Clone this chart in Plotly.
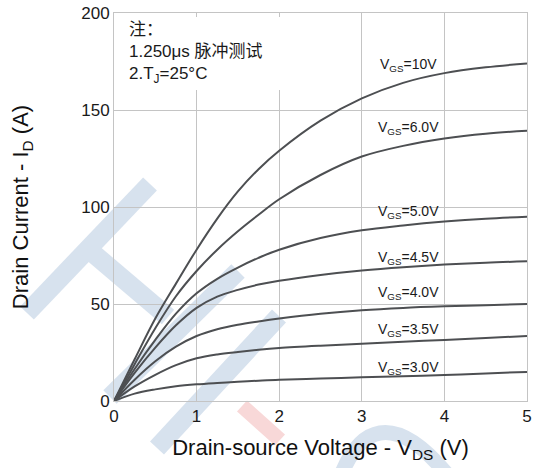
import plotly.graph_objects as go

# ---------------- data ----------------
vds = [0, 0.25, 0.5, 0.75, 1, 1.25, 1.5, 1.75, 2, 2.5, 3, 3.5, 4, 4.5, 5]
id_10v = [0, 21.5, 42.5, 60.5, 78, 94, 108, 119.5, 129, 144.5, 156, 164, 169, 172, 174]
id_6v = [0, 19, 37.5, 54, 67, 78, 87.5, 96, 104, 116.5, 126, 131.5, 135.3, 137.8, 139.3]
id_5v = [0, 16.5, 31.5, 45, 55.5, 63, 68.8, 73.8, 78, 84, 88, 90.5, 92.5, 94, 95]
id_45v = [0, 14.5, 27.5, 39, 48, 53.8, 57.3, 60, 62, 65, 67.3, 69, 70.3, 71.3, 72]
id_4v = [0, 11, 20.5, 28, 33.5, 37, 39.3, 41, 42.5, 45, 46.8, 48, 48.8, 49.4, 50]
id_35v = [0, 7.5, 13.5, 18.5, 22, 24, 25.3, 26.4, 27.3, 28.5, 29.5, 30.5, 31.5, 32.5, 33.5]
id_3v = [0, 3.8, 6, 7.6, 8.6, 9.3, 9.9, 10.5, 11, 11.6, 12.2, 12.8, 13.4, 14.2, 15]

series = [id_10v, id_6v, id_5v, id_45v, id_4v, id_35v, id_3v]
labels = ["V<sub>GS</sub>=10V", "V<sub>GS</sub>=6.0V", "V<sub>GS</sub>=5.0V",
          "V<sub>GS</sub>=4.5V", "V<sub>GS</sub>=4.0V", "V<sub>GS</sub>=3.5V",
          "V<sub>GS</sub>=3.0V"]
label_x = 3.57
label_y = [173, 140.5, 97.5, 73.5, 55.5, 36.5, 17.2]

x_ticks = [0, 1, 2, 3, 4, 5]
y_ticks = [0, 50, 100, 150, 200]

FONT = "'Liberation Sans', Arial, 'Noto Sans CJK SC', sans-serif"
LINE_COLOR = "#4d4f52"
GRID = "#c4c4c4"

fig = go.Figure()
for ys in series:
    fig.add_trace(go.Scatter(x=vds, y=ys, mode="lines",
                             line=dict(color=LINE_COLOR, width=2, shape="spline", smoothing=1.0),
                             showlegend=False, hoverinfo="skip"))

# ---------------- layout geometry (pixels) ----------------
W, H = 536, 468
PL, PR, PT, PB = 114, 527, 13, 401


def pp(xp, yp):
    return (xp - PL) / (PR - PL), (PB - yp) / (PB - PT)


shapes = []
BLUE = "#d7e2ee"
RED = "#f8d8d8"
bands = [((27, 313), (150, 184), 19, BLUE),
         ((88, 249), (168, 317), 19, BLUE),
         ((110, 397), (238, 271), 19, BLUE),
         ((157, 448), (279, 316), 19, BLUE),
         ((242, 406), (280, 440), 15, RED)]
for (a, b, w, c) in bands:
    x0, y0 = pp(*a)
    x1, y1 = pp(*b)
    shapes.append(dict(type="line", xref="paper", yref="paper", x0=x0, y0=y0, x1=x1, y1=y1,
                       line=dict(color=c, width=w), layer="below"))

arc_pts = [(340, 478), (358, 430), (392, 406), (450, 478)]
ap = [pp(*p) for p in arc_pts]
path = "M %f,%f C %f,%f %f,%f %f,%f" % (ap[0][0], ap[0][1], ap[1][0], ap[1][1],
                                        ap[2][0], ap[2][1], ap[3][0], ap[3][1])
shapes.append(dict(type="path", xref="paper", yref="paper", path=path,
                   line=dict(color=BLUE, width=15), layer="below"))

# white note box
bx0, by0 = pp(115, 90)
bx1, by1 = pp(300, 17)
shapes.append(dict(type="rect", xref="paper", yref="paper", x0=bx0, y0=by0, x1=bx1, y1=by1,
                   fillcolor="white", line=dict(width=0), layer="above"))

annotations = []
for t, y in zip(labels, label_y):
    annotations.append(dict(x=label_x, y=y, xref="x", yref="y", text=t, showarrow=False,
                            font=dict(family=FONT, size=14, color="#1a1a1a"),
                            xanchor="center", yanchor="middle"))
nx, ny = pp(127, 53)
annotations.append(dict(x=nx, y=ny, xref="paper", yref="paper",
                        text="注：<br>1.250μs 脉冲测试<br>2.T<sub>J</sub>=25°C",
                        showarrow=False, align="left", xanchor="left", yanchor="middle",
                        font=dict(family=FONT, size=17, color="#1a1a1a")))

fig.update_layout(
    width=W, height=H, autosize=False,
    margin=dict(l=PL, r=W - PR, t=PT, b=H - PB, pad=0, autoexpand=False),
    paper_bgcolor="white", plot_bgcolor="white",
    font=dict(family=FONT, color="#1a1a1a"),
    shapes=shapes, annotations=annotations,
    xaxis=dict(range=[0, 5], tickvals=x_ticks, showgrid=True, gridcolor=GRID, gridwidth=1,
               showline=True, linecolor=GRID, linewidth=1, mirror=True, zeroline=False,
               ticks="", automargin=False,
               tickfont=dict(size=17, family=FONT, color="#1a1a1a"),
               title=dict(text="Drain-source Voltage - V<sub>DS</sub> (V)",
                          font=dict(size=22, family=FONT, color="#111"), standoff=14)),
    yaxis=dict(range=[0, 200], tickvals=y_ticks, showgrid=True, gridcolor=GRID, gridwidth=1,
               showline=True, linecolor=GRID, linewidth=1, mirror=True, zeroline=False,
               ticks="", automargin=False,
               tickfont=dict(size=17, family=FONT, color="#1a1a1a"),
               title=dict(text="Drain Current - I<sub>D</sub> (A)",
                          font=dict(size=22, family=FONT, color="#111"), standoff=46)),
)

# remove the default 8px page margin so the figure sits at the window origin
fig.write_html("out.html", config={"displayModeBar": False},
               post_script="document.body.style.margin='0px';")
